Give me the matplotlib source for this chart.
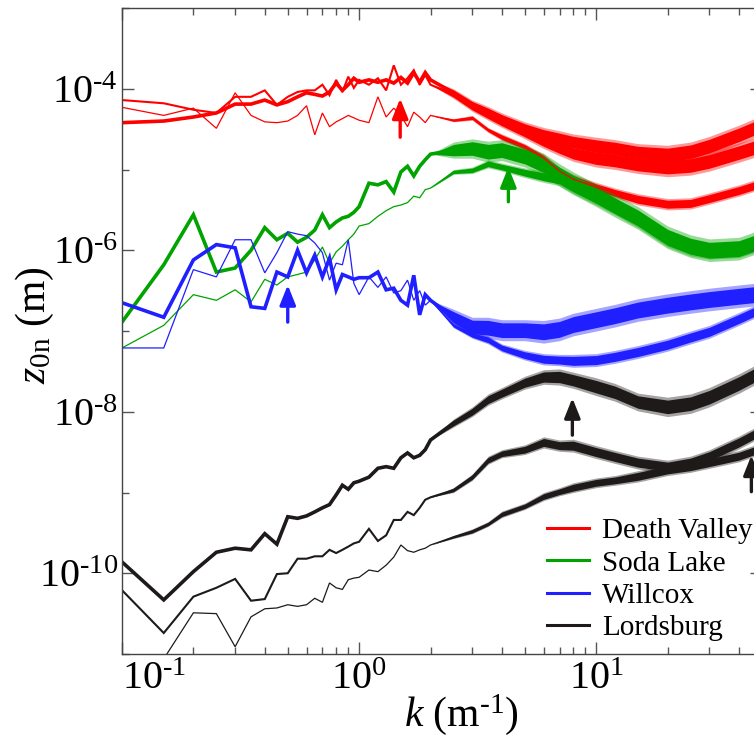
import numpy as np
import matplotlib.pyplot as plt
from matplotlib.lines import Line2D
from matplotlib.ticker import FixedLocator, LogLocator, NullFormatter

plt.rcParams['font.family'] = ['Liberation Serif', 'DejaVu Serif']
plt.rcParams['mathtext.fontset'] = 'custom'
plt.rcParams['mathtext.rm'] = 'Liberation Serif'
plt.rcParams['mathtext.it'] = 'Liberation Serif:italic'

# wavenumber k (1/m): single-line part and the noisy band part
k_low = [0.10, 0.15, 0.20, 0.25, 0.30, 0.35, 0.40, 0.45, 0.50, 0.55,
         0.60, 0.65, 0.70, 0.75, 0.80, 0.85, 0.90, 0.95, 1.00,
         1.1, 1.2, 1.3, 1.4, 1.5, 1.6, 1.7, 1.8, 1.9, 2.0]
k_band = [2.5, 3, 3.5, 4, 5, 6, 7, 8, 10, 12, 15, 20, 25, 30, 40, 50]

# log10 z0n
dv_thick = [-4.42, -4.40, -4.35, -4.30, -4.19, -4.19, -4.14, -4.20, -4.16, -4.10,
            -4.05, -4.07, -4.09, -4.04, -3.93, -4.02, -3.95, -3.87, -3.92,
            -3.89, -3.92, -3.89, -3.93, -3.86, -3.93, -3.80, -3.92, -3.80, -3.89]
dv_thick_b = [-4.05, -4.20, -4.29, -4.37, -4.49, -4.57, -4.62, -4.66, -4.71, -4.74,
              -4.79, -4.82, -4.78, -4.71, -4.57, -4.45]
dv_med = [-4.14, -4.18, -4.26, -4.30, -4.10, -4.10, -4.02, -4.20, -4.10, -4.04,
          -4.02, -4.02, -3.95, -4.08, -3.89, -4.04, -3.85, -3.99, -3.89,
          -3.95, -3.87, -4.02, -3.71, -3.95, -3.87, -3.77, -3.95, -3.83, -3.95]
dv_med_b = [-4.07, -4.22, -4.32, -4.41, -4.54, -4.65, -4.73, -4.80, -4.86, -4.89,
            -4.94, -4.97, -4.95, -4.90, -4.79, -4.70]
dv_thin = [-4.23, -4.33, -4.24, -4.49, -4.05, -4.33, -4.41, -4.42, -4.40, -4.33,
           -4.21, -4.57, -4.30, -4.47, -4.41, -4.37, -4.33, -4.36, -4.39,
           -4.42, -4.10, -4.35, -4.24, -4.33, -4.47, -4.29, -4.35, -4.42, -4.33]
dv_thin_b = [-4.39, -4.36, -4.51, -4.60, -4.72, -4.86, -5.02, -5.12, -5.22, -5.29,
             -5.37, -5.43, -5.42, -5.36, -5.26, -5.17]

sl_thick = [-6.89, -6.18, -5.56, -6.27, -6.22, -6.00, -5.72, -5.87, -5.79, -5.90,
            -5.84, -5.75, -5.56, -5.72, -5.65, -5.60, -5.58, -5.53, -5.46,
            -5.17, -5.19, -5.15, -5.28, -5.03, -4.96, -5.08, -4.96, -4.88, -4.81]
sl_thick_b = [-4.76, -4.74, -4.78, -4.76, -4.84, -4.94, -5.07, -5.17, -5.32, -5.45,
              -5.60, -5.84, -5.95, -6.00, -5.98, -5.88]
sl_thin = [-7.21, -6.93, -6.55, -6.62, -6.49, -6.64, -6.36, -6.43, -6.33, -6.30,
           -6.27, -6.12, -5.96, -6.16, -6.02, -5.95, -5.87, -5.80, -5.70,
           -5.67, -5.58, -5.51, -5.46, -5.44, -5.41, -5.33, -5.35, -5.25, -5.23]
sl_thin_b = [-5.03, -5.01, -4.93, -4.97, -5.04, -5.09, -5.13, -5.22, -5.36, -5.48,
             -5.64, -5.88, -5.99, -6.03, -6.01, -5.92]

wc_thick = [-6.65, -6.83, -6.12, -5.93, -5.97, -6.70, -6.72, -6.27, -6.33, -6.00,
            -6.28, -6.06, -6.33, -6.10, -6.49, -6.30, -6.33, -6.36, -6.34,
            -6.34, -6.27, -6.49, -6.47, -6.62, -6.68, -6.31, -6.80, -6.55, -6.62]
wc_thick_b = [-6.83, -6.95, -6.96, -6.99, -6.99, -7.01, -6.98, -6.92, -6.86, -6.81,
              -6.74, -6.68, -6.64, -6.61, -6.57, -6.54]
wc_thin = [-7.21, -7.21, -6.24, -6.33, -5.87, -5.87, -6.28, -6.03, -5.77, -5.80,
           -5.82, -5.91, -6.03, -6.37, -6.16, -6.18, -5.87, -6.41, -6.55,
           -6.33, -6.46, -6.33, -6.53, -6.50, -6.37, -6.62, -6.50, -6.68, -6.62]
wc_thin_b = [-6.93, -7.05, -7.11, -7.21, -7.30, -7.35, -7.36, -7.37, -7.36, -7.32,
             -7.26, -7.17, -7.08, -7.01, -6.85, -6.72]

lb_thick = [-9.86, -10.33, -9.98, -9.74, -9.69, -9.71, -9.51, -9.64, -9.30, -9.32,
            -9.29, -9.24, -9.19, -9.15, -9.03, -8.91, -8.96, -8.88, -8.86,
            -8.81, -8.70, -8.68, -8.70, -8.57, -8.51, -8.57, -8.54, -8.47, -8.35]
lb_thick_b = [-8.14, -8.00, -7.85, -7.77, -7.64, -7.57, -7.57, -7.61, -7.69, -7.76,
              -7.88, -7.94, -7.90, -7.82, -7.65, -7.50]
lb_med = [-10.21, -10.74, -10.29, -10.18, -10.07, -10.34, -10.32, -10.01, -10.00, -9.82,
          -9.82, -9.79, -9.79, -9.71, -9.75, -9.71, -9.67, -9.63, -9.61,
          -9.45, -9.60, -9.53, -9.34, -9.34, -9.24, -9.28, -9.19, -9.09, -9.06]
lb_med_b = [-8.97, -8.81, -8.60, -8.52, -8.47, -8.38, -8.42, -8.42, -8.50, -8.56,
            -8.63, -8.68, -8.63, -8.55, -8.38, -8.23]
lb_thin = [-11.40, -11.06, -10.49, -10.50, -10.91, -10.54, -10.44, -10.43, -10.39, -10.41,
           -10.39, -10.31, -10.36, -10.12, -10.18, -10.20, -10.08, -10.06, -10.05,
           -9.96, -9.98, -9.90, -9.80, -9.65, -9.72, -9.74, -9.71, -9.69, -9.65]
lb_thin_b = [-9.55, -9.48, -9.39, -9.27, -9.17, -9.05, -8.99, -8.94, -8.88, -8.85,
             -8.80, -8.72, -8.68, -8.63, -8.55, -8.45]

# half width (decades) of the noisy band at k_band
spread_wide = [0.10, 0.12, 0.13, 0.13, 0.13, 0.14, 0.14, 0.14, 0.14, 0.14, 0.14, 0.14, 0.14, 0.14, 0.14, 0.14]
spread_thick = [0.05, 0.06, 0.07, 0.07, 0.08, 0.09, 0.10, 0.10, 0.11, 0.11, 0.11, 0.12, 0.12, 0.12, 0.12, 0.12]
spread_med = [0.03, 0.04, 0.05, 0.05, 0.06, 0.07, 0.07, 0.08, 0.08, 0.08, 0.08, 0.08, 0.08, 0.08, 0.08, 0.08]
spread_thin = [0.02, 0.03, 0.03, 0.04, 0.04, 0.05, 0.05, 0.06, 0.06, 0.06, 0.07, 0.07, 0.07, 0.07, 0.07, 0.07]

sites = ['Death Valley', 'Soda Lake', 'Willcox', 'Lordsburg']
colors = ['#ff0000', '#00a300', '#1f1fff', '#1e1a19']

# arrows: k, tip and tail (log10 z0n)
arrow_k = [1.49, 4.26, 0.50, 7.93, 45.1]
arrow_tip = [-4.12, -4.97, -6.43, -7.83, -8.54]
arrow_tail = [-4.60, -5.40, -6.89, -8.29, -8.99]
arrow_col = [0, 1, 2, 3, 3]

curves = [
    (0, 2.6, dv_thick, dv_thick_b, spread_thick),
    (0, 1.5, dv_med, dv_med_b, spread_thick),
    (0, 0.9, dv_thin, dv_thin_b, spread_thin),
    (1, 2.6, sl_thick, sl_thick_b, spread_wide),
    (1, 0.9, sl_thin, sl_thin_b, spread_med),
    (2, 2.6, wc_thick, wc_thick_b, spread_wide),
    (2, 0.9, wc_thin, wc_thin_b, spread_med),
    (3, 2.6, lb_thick, lb_thick_b, spread_thick),
    (3, 1.5, lb_med, lb_med_b, spread_med),
    (3, 0.9, lb_thin, lb_thin_b, spread_thin),
]

fig = plt.figure(figsize=(7.54, 7.37), dpi=100)
ax = fig.add_axes([122/754, 83/737, 640/754, 646/737])

for ci, lw, low, band, spread in curves:
    c = colors[ci]
    k = np.array(k_low + k_band)
    v = np.array(low + band)
    ax.plot(k, 10**v, color=c, lw=lw, solid_joinstyle='miter')
    kf = np.array(k_low[-1:] + k_band)
    vf = np.array(low[-1:] + band)
    sf = np.array([0.0] + spread)
    # solid core of the noisy band plus a lighter fringe for the spikes
    ax.fill_between(kf, 10**(vf - 0.7*sf), 10**(vf + 0.7*sf), color=c, lw=0)
    ax.fill_between(kf, 10**(vf - sf), 10**(vf + sf), color=c, lw=0, alpha=0.4)

for k, tip, tail, ci in zip(arrow_k, arrow_tip, arrow_tail, arrow_col):
    ax.annotate('', xy=(k, 10**tip), xytext=(k, 10**tail),
                arrowprops=dict(arrowstyle='-|>,head_length=0.75,head_width=0.3',
                                lw=2.4, color=colors[ci], shrinkA=0, shrinkB=0,
                                mutation_scale=16))

ax.set_xscale('log')
ax.set_yscale('log')
ax.set_xlim(0.1, 50)
ax.set_ylim(1e-11, 1e-3)

ax.set_yticks([1e-10, 1e-8, 1e-6, 1e-4],
              [r'$\mathrm{10^{\text{-}10}}$', r'$\mathrm{10^{\text{-}8}}$',
               r'$\mathrm{10^{\text{-}6}}$', r'$\mathrm{10^{\text{-}4}}$'])
ax.yaxis.set_minor_locator(FixedLocator([1e-11, 1e-9, 1e-7, 1e-5, 1e-3]))
ax.yaxis.set_minor_formatter(NullFormatter())
ax.set_xticks([0.1, 1, 10], [r'$\mathrm{10^{\text{-}1}}$', r'$\mathrm{10^{0}}$', r'$\mathrm{10^{1}}$'])
ax.xaxis.set_minor_locator(LogLocator(base=10, subs=[2, 3, 4, 5, 6, 7, 8, 9]))
ax.xaxis.set_minor_formatter(NullFormatter())

ax.tick_params(which='both', direction='in', top=True, right=True,
               color='#555555', width=1.0, labelsize=29)
ax.tick_params(which='major', length=8.5)
ax.tick_params(which='minor', length=5)
ax.tick_params(axis='y', pad=3)
ax.tick_params(axis='x', pad=5)
ax.xaxis.get_major_ticks()[0].label1.set_horizontalalignment('left')
for s in ax.spines.values():
    s.set_color('#444444')
    s.set_linewidth(1.0)

fig.text(35/754, 1 - 325/737, r'$z_{\mathrm{0n}}$ (m)', rotation=90,
         ha='center', va='center', fontsize=30)
fig.text(461/754, 1 - 715/737, r'$k$ (m$^{\text{-}1}$)',
         ha='center', va='center', fontsize=30)

handles = [Line2D([], [], color=c, lw=2.2) for c in colors]
ax.legend(handles, sites, loc='upper left', bbox_to_anchor=(547/754, 1 - 518/737),
          bbox_transform=fig.transFigure, frameon=False, fontsize=21,
          handlelength=1.45, handletextpad=0.45, labelspacing=0.2,
          borderpad=0, borderaxespad=0)

fig.savefig('out.png', dpi=100)
